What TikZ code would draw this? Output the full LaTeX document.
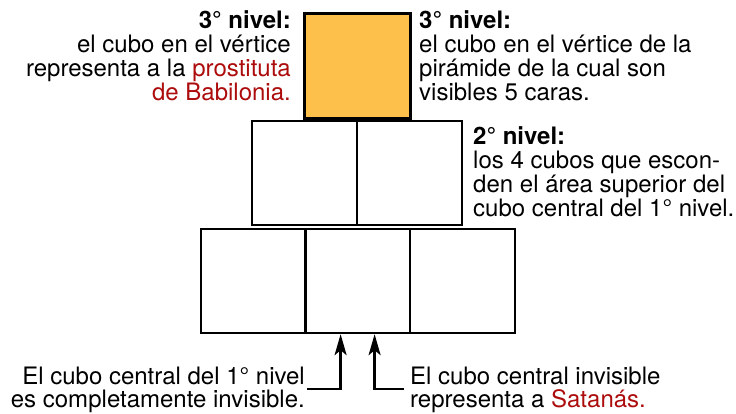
\documentclass[tikz,border=0pt]{standalone}
\usepackage{fontspec}
\setmainfont{TeX Gyre Heros}
\usetikzlibrary{arrows.meta}
\definecolor{rd}{RGB}{172,12,12}
\definecolor{orng}{RGB}{253,192,75}
\begin{document}
\begin{tikzpicture}[x=1pt,y=1pt,
  cube/.style={draw, line width=2.2pt, minimum width=105pt, minimum height=104pt, inner sep=0pt, anchor=north west},
  txt/.style={font=\fontsize{24}{24}\selectfont, inner sep=0pt},
  btxt/.style={font=\fontsize{24}{22.5}\selectfont, inner sep=0pt},
  arr/.style={line width=2.4pt, -{Stealth[length=21pt,width=12pt,inset=5pt]}}]
\useasboundingbox (0,0) rectangle (736,413);
% cubes
\node[cube, fill=orng, line width=2.8pt, minimum width=106pt, minimum height=105pt] (top) at (303,401) {};
\node[cube] (l2a) at (251,293) {};
\node[cube] (l2b) at (356,293) {};
\node[cube] (l1a) at (200,185) {};
\node[cube] (l1b) at (304,185) {};
\node[cube] (l1c) at (409,185) {};
% texts
\node[txt, align=right, anchor=north east] (t3l) at (291,403)
  {\textbf{3° nivel:}\\el cubo en el vértice\\representa a la \textcolor{rd}{prostituta}\\\textcolor{rd}{de Babilonia.}};
\node[txt, align=left, anchor=north west] (t3r) at (419,403)
  {\textbf{3° nivel:}\\el cubo en el vértice de la\\pirámide de la cual son\\visibles 5 caras.};
\node[txt, align=left, anchor=north west] (t2) at (473,287)
  {\textbf{2° nivel:}\\los 4 cubos que escon-\\den el área superior del\\cubo central del 1° nivel.};
\node[btxt, align=right, anchor=north east] (bl) at (305,46)
  {El cubo central del 1° nivel\\es completamente invisible.};
\node[btxt, align=left, anchor=north west] (br) at (410,46)
  {El cubo central invisible\\representa a \textcolor{rd}{Satanás.}};
% arrows
\coordinate (la) at (307,24);
\coordinate (ra) at (404,24);
\coordinate (ta) at ([xshift=-17pt]l1b.south);
\coordinate (tb) at ([xshift=17pt]l1b.south);
\draw[arr] (la) -| (ta);
\draw[arr] (ra) -| (tb);
\end{tikzpicture}
\end{document}
